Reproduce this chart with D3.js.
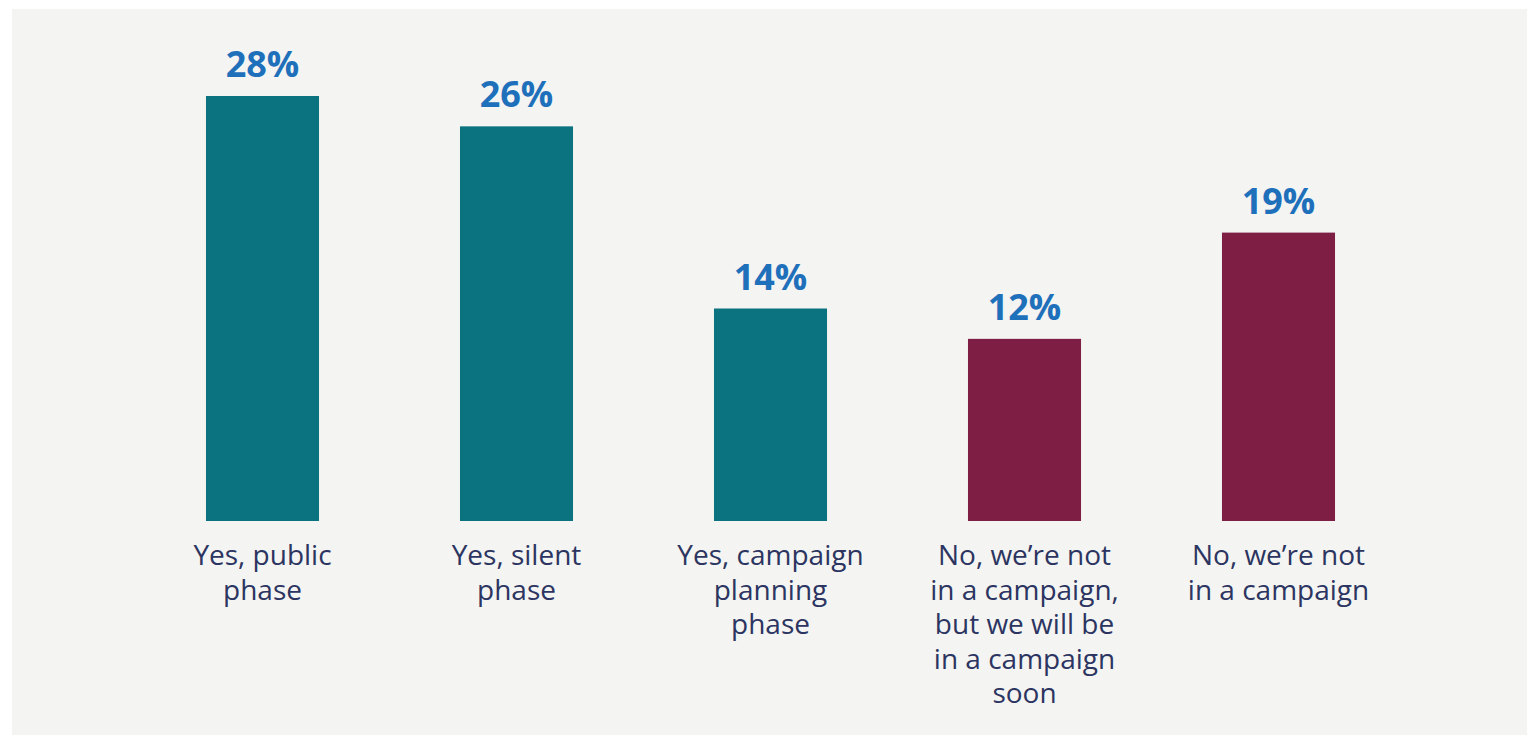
<!DOCTYPE html>
<html>
<head>
<meta charset="utf-8">
<title>Campaign status</title>
<style>
  body { margin: 0; background: #ffffff; }
  svg { display: block; }
</style>
<script src="https://d3js.org/d3.v7.min.js"></script>
</head>
<body>
<script>
// data
const categories = [
  ["Yes, public", "phase"],
  ["Yes, silent", "phase"],
  ["Yes, campaign", "planning", "phase"],
  ["No, we\u2019re not", "in a campaign,", "but we will be", "in a campaign", "soon"],
  ["No, we\u2019re not", "in a campaign"]
]
const values = [28, 26, 14, 12, 19]
const groups = ["yes", "yes", "yes", "no", "no"]

let width = 1529
let height = 739

let svg = d3.select("body").append("svg")
    .attr("width", width)
    .attr("height", height)

svg.append("rect")
    .attr("x", 12).attr("y", 9)
    .attr("width", 1515).attr("height", 726)
    .attr("fill", "#f4f4f2")

let x = d3.scaleBand()
    .domain(d3.range(values.length))
    .range([135.5, 1405.5])
    .paddingInner(0.555)
    .paddingOuter(0.2775)

let y = d3.scaleLinear()
    .domain([0, 28])
    .range([521, 96])

let color = d3.scaleOrdinal()
    .domain(["yes", "no"])
    .range(["#0b7280", "#7f1e45"])

svg.selectAll("rect.bar")
    .data(values)
    .enter()
    .append("rect")
    .attr("class", "bar")
    .attr("x", (d, i) => x(i))
    .attr("y", d => y(d))
    .attr("width", x.bandwidth())
    .attr("height", d => y(0) - y(d))
    .attr("fill", (d, i) => color(groups[i]))

svg.selectAll("text.value")
    .data(values)
    .enter()
    .append("text")
    .attr("class", "value")
    .attr("x", (d, i) => x(i) + x.bandwidth() / 2)
    .attr("y", d => y(d) - 19)
    .attr("text-anchor", "middle")
    .attr("font-family", "Open Sans")
    .attr("font-weight", "bold")
    .attr("font-size", 36)
    .attr("fill", "#1f70bb")
    .text(d => d + "%")

let labels = svg.selectAll("text.cat")
    .data(categories)
    .enter()
    .append("text")
    .attr("class", "cat")
    .attr("text-anchor", "middle")
    .attr("font-family", "Open Sans")
    .attr("font-weight", 500)
    .attr("font-size", 28)
    .attr("fill", "#2c3561")

labels.selectAll("tspan")
    .data((d, i) => d.map(line => ({ line, i })))
    .enter()
    .append("tspan")
    .attr("x", d => x(d.i) + x.bandwidth() / 2)
    .attr("y", (d, j) => 565 + j * 34.5)
    .text(d => d.line)
</script>
</body>
</html>
